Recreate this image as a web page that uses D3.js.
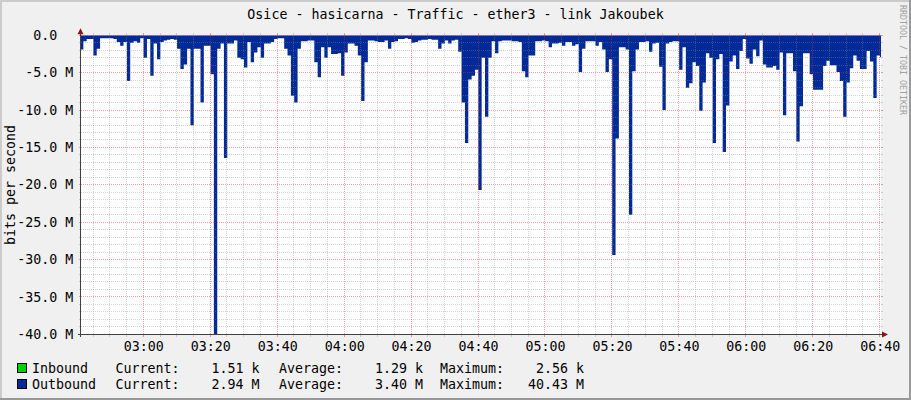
<!DOCTYPE html>
<html><head><meta charset="utf-8">
<script src="https://cdn.jsdelivr.net/npm/d3@7"></script>
<style>
html,body{margin:0;padding:0;background:#F0F0F0;}
svg{display:block;}
text{font-family:"DejaVu Sans Mono",monospace;white-space:pre;}
</style></head><body>
<svg id="c" width="911" height="400"></svg>
<script>
// ---------- data ----------
const title = "Osice - hasicarna - Traffic - ether3 - link Jakoubek";
const yAxisTitle = "bits per second";
const watermark = "RRDTOOL / TOBI OETIKER";
const day = "2024-01-01 ";
const viewStart = "02:41:23";
const viewEnd = "06:40:23";
const dataStart = "02:41:05";      // first 1-minute sample
const stepSeconds = 60;
const yTickValues = [0, -5, -10, -15, -20, -25, -30, -35, -40];      // M bit/s
const yTickLabels = ["0.0  ", "-5.0 M", "-10.0 M", "-15.0 M", "-20.0 M", "-25.0 M", "-30.0 M", "-35.0 M", "-40.0 M"];
const xTickLabels = ["03:00","03:20","03:40","04:00","04:20","04:40","05:00","05:20","05:40","06:00","06:20","06:40"];
// Outbound traffic, Mbit/s (drawn negative, below zero)
const outboundMbps = [
 1.9,0.8,0.5,0.5,2.7,1.8,0.4,0.4,0.4,0.4,
 0.5,0.9,1.4,0.9,6.1,1.0,0.8,1.0,0.4,3.0,
 0.5,5.4,1.1,3.2,0.9,0.7,0.6,0.5,0.6,1.8,
 4.5,3.9,1.8,12.05,1.8,1.8,9.0,1.4,1.4,5.2,
 40.43,1.8,1.1,16.4,1.1,1.1,0.7,3.0,3.2,4.3,
 0.9,3.6,2.3,1.6,3.0,1.1,1.1,0.9,0.5,0.4,
 0.4,1.8,2.7,8.1,9.0,1.8,0.8,0.8,0.7,0.7,
 3.6,5.6,1.6,3.0,1.6,2.5,2.5,2.4,5.4,2.3,
 1.1,1.1,1.4,2.7,8.8,3.6,0.7,0.7,0.8,0.9,
 0.9,0.7,1.8,0.9,0.8,0.5,0.5,0.4,0.5,1.0,
 0.9,0.7,0.6,0.6,0.5,0.6,0.6,1.8,1.1,0.7,
 1.1,0.7,0.6,2.2,9.0,14.4,5.9,5.4,4.6,20.7,
 3.0,10.9,3.0,0.8,2.4,0.8,0.7,0.7,0.7,0.8,
 0.8,0.9,4.8,5.6,2.7,2.7,0.8,0.8,0.7,0.8,
 1.6,1.1,1.1,1.0,1.4,0.9,0.9,1.4,1.2,
 4.9,1.8,0.8,0.8,0.8,1.4,0.9,1.9,4.9,3.2,
 29.4,13.8,1.6,1.6,1.9,24.0,4.8,1.9,0.9,0.9,
 0.8,2.2,1.1,1.0,4.2,10.0,1.1,0.9,0.8,0.8,
 4.6,1.6,7.0,6.4,3.6,4.1,10.1,6.3,2.4,3.0,
 14.4,3.2,2.5,15.6,9.4,3.5,2.7,4.5,2.1,0.5,
 3.1,3.8,1.9,2.8,0.7,3.9,4.3,4.3,4.1,4.6,
 2.3,10.7,2.4,2.4,4.8,14.2,9.5,2.4,2.4,5.2,
 7.3,7.3,7.3,4.1,3.4,4.0,4.0,4.9,6.1,10.9,
 6.3,4.4,2.7,3.4,4.5,4.5,2.1,3.5,8.4,2.7,
 2.94
];
const legendNames = ["Inbound", "Outbound"];
const legendColors = ["#00CF00", "#002A97"];
const legendCurrent = [1.51, 2.94];
const legendAverage = [1.29, 3.40];
const legendMaximum = [2.56, 40.43];
const legendUnits = ["k", "M"];

// ---------- layout ----------
const W = 911, H = 400;
const PL = 81, PR = 881, PT = 35.3, PB = 334.3;
const FS = 13.3;
const gridCol = "rgba(140,140,140,0.38)";
const mgridCol = "rgba(225,40,40,0.45)";
const axisCol = "#404040";
const arrowCol = "#8B1414";

const parse = d3.timeParse("%Y-%m-%d %H:%M:%S");
const x = d3.scaleTime().domain([parse(day+viewStart), parse(day+viewEnd)]).range([PL, PR]);
const y = d3.scaleLinear().domain([-40, 0]).range([PB, PT]);
const crisp = v => Math.floor(v) + 0.5;

const t0 = parse(day + dataStart);
const series = outboundMbps.map((v, i) => ({t: new Date(+t0 + i*stepSeconds*1000), v}));
series.push({t: new Date(+t0 + outboundMbps.length*stepSeconds*1000), v: outboundMbps[outboundMbps.length-1]});

const svg = d3.select("#c");
svg.append("rect").attr("width", W).attr("height", H).attr("fill", "#F0F0F0");
// 3D border
svg.append("path").attr("d", `M0,1 H${W} M1,0 V${H}`).attr("stroke", "#CBCBCB").attr("stroke-width", 2);
svg.append("path").attr("d", `M0,${H-1} H${W} M${W-1},0 V${H}`).attr("stroke", "#999999").attr("stroke-width", 2);

// canvas
svg.append("rect").attr("x", PL).attr("y", Math.floor(PT)).attr("width", PR-PL).attr("height", Math.ceil(PB)-Math.floor(PT)).attr("fill", "#FFFFFF");

svg.append("clipPath").attr("id", "clip").append("rect")
  .attr("x", PL).attr("y", PT).attr("width", PR-PL).attr("height", PB-PT+0.7);

// area
const area = d3.area().curve(d3.curveStepAfter)
  .x(d => x(d.t)).y0(y(0)).y1(d => y(-d.v));
svg.append("path").datum(series).attr("clip-path", "url(#clip)")
  .attr("d", area).attr("fill", legendColors[1]);

// grid
const g = svg.append("g").attr("shape-rendering", "crispEdges");
const minorY = d3.range(-40, 1, 1).filter(v => v % 5 !== 0);
minorY.forEach(v => {
  const yy = crisp(y(v));
  g.append("line").attr("x1", PL).attr("x2", PR).attr("y1", yy).attr("y2", yy)
    .attr("stroke", gridCol).attr("stroke-dasharray", "1,1");
  g.append("path").attr("d", `M${PL-2},${yy}H${PL} M${PR},${yy}H${PR+2}`).attr("stroke", gridCol);
});
yTickValues.forEach(v => {
  const yy = crisp(y(v));
  g.append("line").attr("x1", PL).attr("x2", PR).attr("y1", yy).attr("y2", yy)
    .attr("stroke", mgridCol).attr("stroke-dasharray", "1,1");
  g.append("path").attr("d", `M${PL-2},${yy}H${PL} M${PR},${yy}H${PR+2}`).attr("stroke", mgridCol);
});
const majorTimes = xTickLabels.map(s => parse(day + s + ":00"));
const minorTimes = d3.timeMinute.every(5).range(x.domain()[0], x.domain()[1])
  .filter(t => !majorTimes.some(m => +m === +t));
minorTimes.forEach(t => {
  const xx = crisp(x(t));
  g.append("line").attr("x1", xx).attr("x2", xx).attr("y1", PT).attr("y2", PB)
    .attr("stroke", gridCol).attr("stroke-dasharray", "1,1");
  g.append("path").attr("d", `M${xx},${PB}V${PB+2.5} M${xx},${PT-2}V${PT}`).attr("stroke", gridCol);
});
majorTimes.forEach(t => {
  const xx = crisp(x(t));
  g.append("line").attr("x1", xx).attr("x2", xx).attr("y1", PT).attr("y2", PB)
    .attr("stroke", mgridCol).attr("stroke-dasharray", "1,1");
  g.append("path").attr("d", `M${xx},${PB}V${PB+2.5} M${xx},${PT-2}V${PT}`).attr("stroke", mgridCol);
});

// axes
const ax = svg.append("g").attr("shape-rendering", "crispEdges");
ax.append("line").attr("x1", PL-0.5).attr("x2", PL-0.5).attr("y1", PT-2).attr("y2", PB+3).attr("stroke", axisCol);
ax.append("line").attr("x1", PL-3).attr("x2", PR+3).attr("y1", crisp(PB)).attr("y2", crisp(PB)).attr("stroke", axisCol);
svg.append("path").attr("d", `M${PL-3.5},${PT-1} L${PL-0.5},${PT-7} L${PL+2.5},${PT-1} Z`).attr("fill", arrowCol);
svg.append("path").attr("d", `M${PR+1},${crisp(PB)-3} L${PR+7},${crisp(PB)} L${PR+1},${crisp(PB)+3} Z`).attr("fill", arrowCol);

// y tick labels
yTickValues.forEach((v, i) => {
  svg.append("text").attr("x", 73.3).attr("y", y(v) + 4.6).attr("text-anchor", "end")
    .attr("font-size", FS).attr("fill", "#000").text(yTickLabels[i]);
});
// x tick labels
majorTimes.forEach((t, i) => {
  svg.append("text").attr("x", x(t) + 0.5).attr("y", 351).attr("text-anchor", "middle")
    .attr("font-size", FS).attr("fill", "#000").text(xTickLabels[i]);
});

// title
svg.append("text").attr("x", W/2).attr("y", 19).attr("text-anchor", "middle")
  .attr("font-size", FS).attr("fill", "#000").text(title);
// y-axis title
svg.append("text").attr("transform", "translate(14.5,185) rotate(-90)").attr("text-anchor", "middle")
  .attr("font-size", FS).attr("fill", "#000").text(yAxisTitle);
// watermark
svg.append("text").attr("transform", "translate(900,5) rotate(90)")
  .attr("font-size", 8.6).attr("fill", "#A0A0A0")
  .attr("textLength", 110).attr("lengthAdjust", "spacingAndGlyphs").text(watermark);

// legend
const fmt = d3.format("8.2f");
legendNames.forEach((name, i) => {
  const base = 373 + i*16;
  svg.append("rect").attr("x", 17.5).attr("y", base - 9.5).attr("width", 9).attr("height", 9)
    .attr("fill", legendColors[i]).attr("stroke", "#000").attr("stroke-width", 1);
  const parts = [
    [32, name],
    [115.5, "Current:" + fmt(legendCurrent[i]) + " " + legendUnits[i]],
    [279, "Average:" + fmt(legendAverage[i]) + " " + legendUnits[i]],
    [440, "Maximum:" + fmt(legendMaximum[i]) + " " + legendUnits[i]]
  ];
  parts.forEach(([px, s]) => {
    svg.append("text").attr("x", px).attr("y", base).attr("font-size", FS).attr("fill", "#000").text(s);
  });
});
</script>
</body></html>
